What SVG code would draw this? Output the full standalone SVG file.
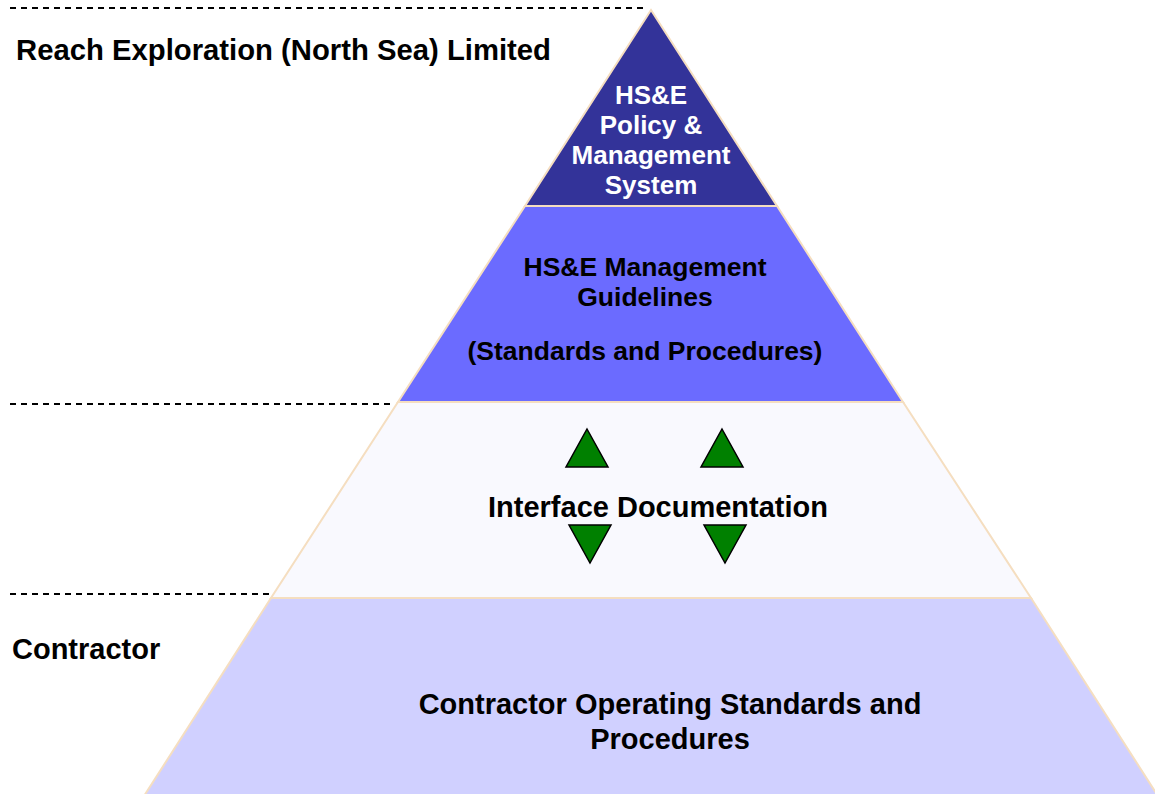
<svg xmlns="http://www.w3.org/2000/svg" width="1155" height="794" viewBox="0 0 1155 794">
<style>
.lvl{stroke:#F5DEC0;stroke-width:2;stroke-linejoin:miter}
.dash{stroke:#000;stroke-width:2;stroke-dasharray:6 5;fill:none}
.t{font-family:"Liberation Sans",Arial,sans-serif;font-weight:bold;text-anchor:middle}
.lab{font-family:"Liberation Sans",Arial,sans-serif;font-weight:bold;font-size:29px;fill:#000}
.arr{fill:#008000;stroke:#000;stroke-width:1.5;stroke-linejoin:miter}
</style>
<rect width="1155" height="794" fill="#FFFFFF"/>
<g id="dividers">
<line class="dash" x1="10" y1="8" x2="645" y2="8"/>
<line class="dash" x1="10" y1="404" x2="395" y2="404"/>
<line class="dash" x1="10" y1="594" x2="270" y2="594"/>
</g>
<g id="label-reach"><text class="lab" x="16" y="60" textLength="535" lengthAdjust="spacingAndGlyphs">Reach Exploration (North Sea) Limited</text></g>
<g id="label-contractor"><text class="lab" x="12" y="659">Contractor</text></g>
<g id="level-policy">
<polygon class="lvl" fill="#333399" points="651,10 777,206 525,206"/>
<text class="t" font-size="26" fill="#FFFFFF"><tspan x="651" y="104">HS&amp;E</tspan><tspan x="651" y="134">Policy &amp;</tspan><tspan x="651" y="164">Management</tspan><tspan x="651" y="194">System</tspan></text>
</g>
<g id="level-guidelines">
<polygon class="lvl" fill="#6B6BFF" points="525,206 777,206 903,402 398,402"/>
<text class="t" font-size="26.5" fill="#000"><tspan x="645" y="275.5">HS&amp;E Management</tspan><tspan x="645" y="305.5">Guidelines</tspan><tspan x="645" y="359.5">(Standards and Procedures)</tspan></text>
</g>
<g id="level-interface">
<polygon class="lvl" fill="#F9F9FE" points="398,402 903,402 1031,598 271,598"/>
<text class="t" font-size="29" fill="#000" x="658" y="517">Interface Documentation</text>
</g>
<g id="level-contractor">
<polygon class="lvl" fill="#D0D0FF" points="271,598 1031,598 1158,796 144,796"/>
<text class="t" font-size="29" fill="#000"><tspan x="670" y="714">Contractor Operating Standards and</tspan><tspan x="670" y="749">Procedures</tspan></text>
</g>
<g id="connectors">
<polygon class="arr" points="587,429 608,467 566,467"/>
<polygon class="arr" points="722,429 743,467 701,467"/>
<polygon class="arr" points="569,525 611,525 590,563"/>
<polygon class="arr" points="704,525 746,525 725,563"/>
</g>
</svg>
